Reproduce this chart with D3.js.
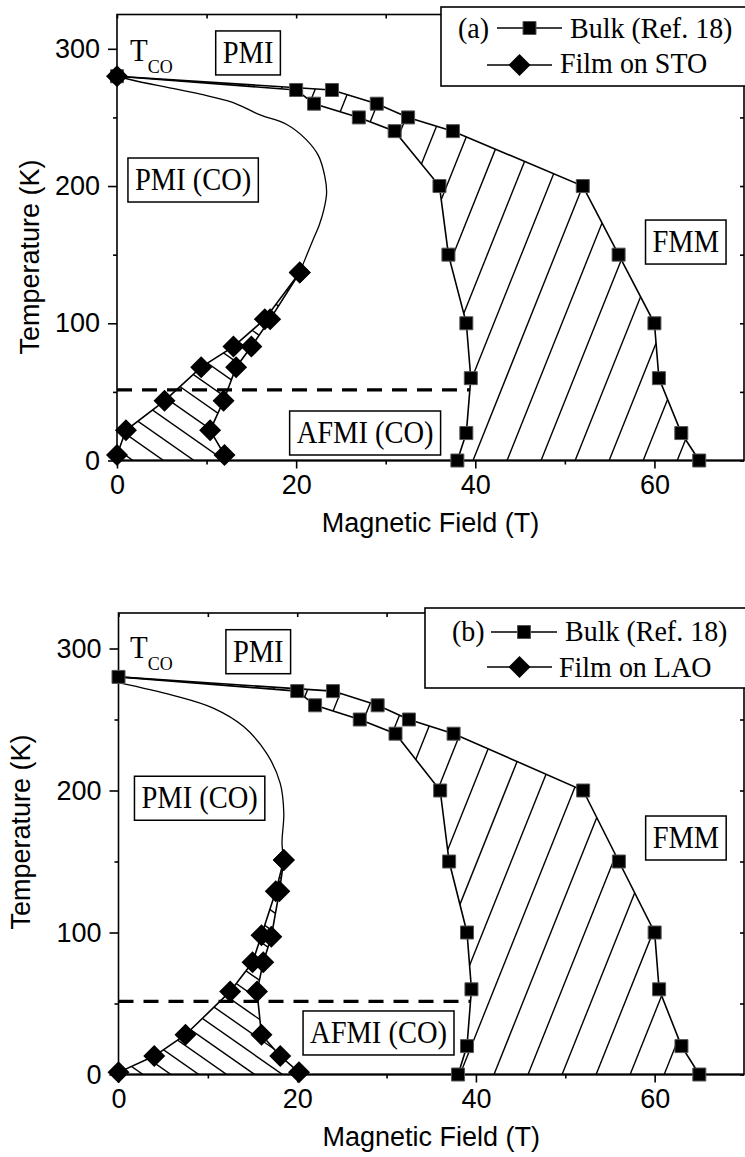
<!DOCTYPE html>
<html><head><meta charset="utf-8">
<script src="https://cdn.jsdelivr.net/npm/d3@7"></script>
<style>body{margin:0;background:#fff}svg{display:block}</style>
</head><body>
<svg id="chart" width="745" height="1157"></svg>
<script>
// ---------------- data ----------------
const xTickValues = [0, 20, 40, 60];
const xTickLabels = ["0", "20", "40", "60"];
const xMinorTicks = [10, 30, 50];
const yTickValues = [0, 100, 200, 300];
const yTickLabels = ["0", "100", "200", "300"];
const yMinorTicks = [50, 150, 250];

// Bulk (Ref. 18): lower-field and upper-field transition lines
const bulkLowerT = [280, 270, 260, 250, 240, 200, 150, 100, 60, 20, 0];
const bulkLowerH = [0, 20, 22, 27, 31, 36, 37, 39, 39.5, 39, 38];
const bulkUpperT = [280, 270, 260, 250, 240, 200, 150, 100, 60, 20, 0];
const bulkUpperH = [0, 24, 29, 32.5, 37.5, 52, 56, 60, 60.5, 63, 65];

// Film on STO
const stoLowerT = [4, 22, 43.5, 68, 83, 103, 137];
const stoLowerH = [0, 1, 5.3, 9.4, 13, 16.5, 20.4];
const stoUpperT = [4, 22, 43.5, 68, 83, 103, 137];
const stoUpperH = [12, 10.4, 11.9, 13.3, 15, 17.1, 20.4];
const stoTcoH = [0];
const stoTcoT = [280];
const stoCurveH = [20.4, 21.2, 21.9, 22.6, 23.1, 23.4, 23.2, 22.5, 21.1, 18.9, 15.9, 12.9, 9.3, 5.5, 2.5, 0];
const stoCurveT = [137, 150, 161, 172, 183, 195, 207, 222, 234, 245, 252, 261, 267, 272, 276, 280];

// Film on LAO
const laoLowerT = [1.5, 13, 28, 58.5, 79, 98, 129, 151];
const laoLowerH = [0, 4, 7.5, 12.5, 15, 16, 17.6, 18.5];
const laoUpperT = [1.5, 13, 28, 58.5, 79, 97, 129, 151];
const laoUpperH = [20.2, 18.1, 16, 15.5, 16.2, 17.1, 18.0, 18.5];
const laoCurveH = [18.5, 18.3, 18.5, 18.1, 16.6, 14.0, 10.6, 6.1, 0];
const laoCurveT = [151, 163, 184, 205, 226, 245, 258, 267, 276];

// charge-order temperature line (dashed)
const dashT = [51.5, 51.5];
const dashH = [0, 39.4];

const regionLabels = ["PMI", "PMI (CO)", "FMM", "AFMI (CO)"];
const panelTags = ["(a)", "(b)"];
const bulkLegend = "Bulk (Ref. 18)";
const filmLegends = ["Film on STO", "Film on LAO"];
const xTitle = "Magnetic Field (T)";
const yTitle = "Temperature (K)";

// ---------------- layout ----------------
const SANS = "'Liberation Sans', Arial, sans-serif";
const SERIF = "'Liberation Serif', 'Times New Roman', serif";
const svg = d3.select("#chart");
const defs = svg.append("defs");

const zip = (H, T) => H.map((h, i) => [h, T[i]]);

const panels = [
  {
    tag: 0, xl: 117, xr: 744, yb: 460.5, yt: 14.5,
    film: {lowerH: stoLowerH, lowerT: stoLowerT, upperH: stoUpperH, upperT: stoUpperT,
           curveH: stoCurveH, curveT: stoCurveT, tcoH: stoTcoH, tcoT: stoTcoT},
    yTitleX: 39, yTitleY: 257,
    labels: [[14.63, 289.7], [8.5, 197.1], [63.5, 151.9], [27.7, 12.75]],
    tco: [1.45, 291.1],
    bulkHatch: {dir: [1, -2.5], sp: 31.6, through: [473, 460.5]},
    filmHatch: {dir: [1, 0.7], sp: 17.5, through: [133, 460.5]},
    legend: {x: 441, y: 7, h: 79, tagX: 458, l1: [497, 562], l2: [487, 552], t1: 570, t2: 560,
             r1: 28, r2: 65, b1: 38, b2: 73}
  },
  {
    tag: 1, xl: 118.5, xr: 744, yb: 1074.5, yt: 613,
    film: {lowerH: laoLowerH, lowerT: laoLowerT, upperH: laoUpperH, upperT: laoUpperT,
           curveH: laoCurveH, curveT: laoCurveT, tcoH: [], tcoT: []},
    yTitleX: 30, yTitleY: 832,
    labels: [[15.64, 290.7], [9.08, 187.5], [63.5, 159.5], [29.1, 22.2]],
    tco: [1.29, 293.3],
    bulkHatch: {dir: [1, -2.5], sp: 31.6, through: [494, 1074.5]},
    filmHatch: {dir: [1, 0.7], sp: 16, through: [143, 1074.5]},
    legend: {x: 425, y: 608, h: 80, tagX: 452, l1: [491, 557], l2: [487, 552], t1: 565, t2: 559,
             r1: 632, r2: 667, b1: 641, b2: 677}
  }
];

function hatch(parent, pts, dir, spacing, through, id) {
  const cid = "hatch-" + id;
  defs.append("clipPath").attr("id", cid)
    .append("path").attr("d", "M" + pts.map(p => p.join(",")).join("L") + "Z");
  const len = Math.hypot(dir[0], dir[1]);
  const ux = dir[0] / len, uy = dir[1] / len;
  const nx = -uy, ny = ux;
  const proj = pts.map(p => p[0] * nx + p[1] * ny);
  const c0 = through[0] * nx + through[1] * ny;
  const kmin = Math.ceil((d3.min(proj) - c0) / spacing);
  const kmax = Math.floor((d3.max(proj) - c0) / spacing);
  const gg = parent.append("g").attr("clip-path", `url(#${cid})`)
    .attr("stroke", "#000").attr("stroke-width", 1.4);
  d3.range(kmin, kmax + 1).forEach(k => {
    const c = c0 + k * spacing;
    const bx = c * nx, by = c * ny;
    gg.append("line")
      .attr("x1", bx - ux * 2000).attr("y1", by - uy * 2000)
      .attr("x2", bx + ux * 2000).attr("y2", by + uy * 2000);
  });
}

// serif text, slightly stretched vertically like the reference lettering
function serifText(parent, x, y, txt, size, anchor) {
  const g = parent.append("g").attr("transform", `translate(${x},${y}) scale(1,1.08)`);
  return g.append("text").attr("x", 0).attr("y", 0)
    .attr("text-anchor", anchor || "start").attr("font-family", SERIF)
    .attr("font-size", size).attr("fill", "#000").text(txt);
}

const squarePath = "M-6.5,-6.5H6.5V6.5H-6.5Z";
const diamondPath = "M0,-11L11,0L0,11L-11,0Z";

panels.forEach(cfg => {
  const x = d3.scaleLinear().domain([0, 70]).range([cfg.xl, cfg.xr]);
  const y = d3.scaleLinear().domain([0, 325]).range([cfg.yb, cfg.yt]);
  const g = svg.append("g");
  const line = d3.line().x(d => x(d[0])).y(d => y(d[1]));

  const bulkL = zip(bulkLowerH, bulkLowerT);
  const bulkU = zip(bulkUpperH, bulkUpperT);
  const f = cfg.film;
  const filmL = zip(f.lowerH, f.lowerT);
  const filmU = zip(f.upperH, f.upperT);

  // hatching
  const bulkPoly = bulkL.concat(bulkU.slice().reverse()).map(d => [x(d[0]), y(d[1])]);
  hatch(g, bulkPoly, cfg.bulkHatch.dir, cfg.bulkHatch.sp, cfg.bulkHatch.through, "bulk" + cfg.tag);
  const filmPolyData = [[0, 0]].concat(filmL, filmU.slice().reverse(), [[f.upperH[0], 0]]);
  const filmPoly = filmPolyData.map(d => [x(d[0]), y(d[1])]);
  hatch(g, filmPoly, cfg.filmHatch.dir, cfg.filmHatch.sp, cfg.filmHatch.through, "film" + cfg.tag);

  // dashed CO line
  g.append("path").datum(zip(dashH, dashT)).attr("d", line)
    .attr("fill", "none").attr("stroke", "#000").attr("stroke-width", 3.2)
    .attr("stroke-dasharray", "15,10");

  // frame
  g.append("rect").attr("x", x(0)).attr("y", y(325))
    .attr("width", x(70) - x(0)).attr("height", y(0) - y(325))
    .attr("fill", "none").attr("stroke", "#000").attr("stroke-width", 1.6);

  // axes
  const fmtX = d => xTickLabels[xTickValues.indexOf(d)];
  const fmtY = d => yTickLabels[yTickValues.indexOf(d)];
  g.append("g").attr("transform", `translate(0,${y(0)})`)
    .call(d3.axisBottom(x).tickValues(xTickValues).tickFormat(fmtX).tickSize(8).tickSizeOuter(0).tickPadding(6));
  g.append("g").attr("transform", `translate(0,${y(0)})`)
    .call(d3.axisBottom(x).tickValues(xMinorTicks).tickFormat("").tickSize(4).tickSizeOuter(0));
  g.append("g").attr("transform", `translate(${x(0)},0)`)
    .call(d3.axisLeft(y).tickValues(yTickValues).tickFormat(fmtY).tickSize(9).tickSizeOuter(0).tickPadding(8));
  g.append("g").attr("transform", `translate(${x(0)},0)`)
    .call(d3.axisLeft(y).tickValues(yMinorTicks).tickFormat("").tickSize(4).tickSizeOuter(0));
  g.append("g").attr("transform", `translate(0,${y(325)})`)
    .call(d3.axisTop(x).tickValues(xTickValues.concat(xMinorTicks)).tickFormat("").tickSize(-4).tickSizeOuter(0));
  g.append("g").attr("transform", `translate(${x(70)},0)`)
    .call(d3.axisRight(y).tickValues(yTickValues.concat(yMinorTicks)).tickFormat("").tickSize(-4).tickSizeOuter(0));
  g.selectAll(".domain").remove();
  g.selectAll(".tick line").attr("stroke", "#000").attr("stroke-width", 1.6);
  g.selectAll(".tick text").attr("font-family", SANS).attr("font-size", 27).attr("fill", "#000");
  g.append("line").attr("x1", x(0)).attr("x2", x(70)).attr("y1", y(0)).attr("y2", y(0))
    .attr("stroke", "#000").attr("stroke-width", 2);

  // axis titles
  g.append("text").attr("x", (x(0) + x(70)) / 2).attr("y", y(0) + 71)
    .attr("text-anchor", "middle").attr("font-family", SANS).attr("font-size", 27).text(xTitle);
  g.append("text").attr("transform", `translate(${cfg.yTitleX},${cfg.yTitleY}) rotate(-90)`)
    .attr("text-anchor", "middle").attr("font-family", SANS).attr("font-size", 27).text(yTitle);

  // data lines
  const stroke = sel => sel.attr("fill", "none").attr("stroke", "#000").attr("stroke-width", 1.6);
  g.append("path").datum(bulkL).attr("d", line).call(stroke);
  g.append("path").datum(bulkU).attr("d", line).call(stroke);
  g.append("path").datum(filmL).attr("d", line).call(stroke);
  g.append("path").datum(filmU).attr("d", line).call(stroke);
  g.append("path").datum(zip(f.curveH, f.curveT))
    .attr("d", d3.line().x(d => x(d[0])).y(d => y(d[1])).curve(d3.curveCatmullRom.alpha(0.5)))
    .attr("fill", "none").attr("stroke", "#000").attr("stroke-width", 1.3);

  // markers
  const sq = bulkL.concat(bulkU.slice(1));
  g.append("g").selectAll("path").data(sq).join("path")
    .attr("d", squarePath).attr("transform", d => `translate(${x(d[0])},${y(d[1])})`)
    .attr("fill", "#000").attr("stroke", "#555").attr("stroke-width", 1);
  const dm = filmL.concat(filmU, zip(f.tcoH, f.tcoT));
  g.append("g").selectAll("path").data(dm).join("path")
    .attr("d", diamondPath).attr("transform", d => `translate(${x(d[0])},${y(d[1])})`)
    .attr("fill", "#000");

  // region labels with boxes
  regionLabels.forEach((txt, i) => {
    const p = cfg.labels[i];
    const lbl = g.append("g");
    const r = lbl.append("rect");
    const t = serifText(lbl, x(p[0]), y(p[1]), txt, 28.5, "middle");
    const w = t.node().getComputedTextLength();
    r.attr("x", x(p[0]) - w / 2 - 7).attr("y", y(p[1]) - 32)
      .attr("width", w + 14).attr("height", 44)
      .attr("fill", "#fff").attr("stroke", "#000").attr("stroke-width", 1.5);
  });
  // T_CO
  const tt = serifText(g, x(cfg.tco[0]), y(cfg.tco[1]), null, 29);
  tt.append("tspan").text("T");
  tt.append("tspan").attr("dy", 11).attr("font-size", 18).text("CO");

  // legend
  const L = cfg.legend;
  const lg = g.append("g");
  lg.append("rect").attr("x", L.x).attr("y", L.y).attr("width", 760 - L.x).attr("height", L.h)
    .attr("fill", "#fff").attr("stroke", "#000").attr("stroke-width", 1.6);
  serifText(lg, L.tagX, L.b1, panelTags[cfg.tag], 28);
  lg.append("line").attr("x1", L.l1[0]).attr("x2", L.l1[1]).attr("y1", L.r1).attr("y2", L.r1)
    .attr("stroke", "#000").attr("stroke-width", 1.6);
  lg.append("path").attr("d", squarePath).attr("transform", `translate(${(L.l1[0] + L.l1[1]) / 2},${L.r1})`)
    .attr("fill", "#000").attr("stroke", "#555");
  serifText(lg, L.t1, L.b1, bulkLegend, 28);
  lg.append("line").attr("x1", L.l2[0]).attr("x2", L.l2[1]).attr("y1", L.r2).attr("y2", L.r2)
    .attr("stroke", "#000").attr("stroke-width", 1.6);
  lg.append("path").attr("d", diamondPath).attr("transform", `translate(${(L.l2[0] + L.l2[1]) / 2},${L.r2})`)
    .attr("fill", "#000");
  serifText(lg, L.t2, L.b2, filmLegends[cfg.tag], 28);
});
</script>
</body></html>
